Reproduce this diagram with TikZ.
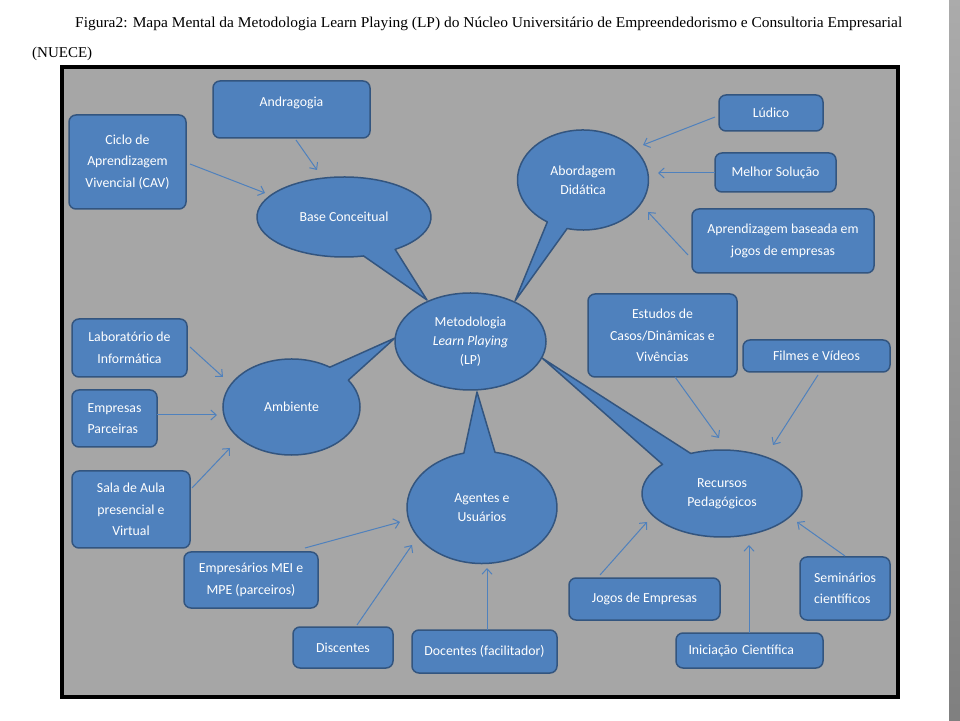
\documentclass[tikz,border=0pt]{standalone}
\usepackage{fontspec}
\usepackage{graphicx}
\setmainfont{Liberation Serif}
\newfontfamily\carlito{Carlito}
\usetikzlibrary{arrows.meta,shapes.geometric,calc}
\definecolor{bgray}{HTML}{A6A6A6}
\definecolor{bblue}{HTML}{4F81BD}
\definecolor{bline}{HTML}{33557F}
\definecolor{ablue}{HTML}{4F81BD}
\begin{document}
\begin{tikzpicture}[x=1pt,y=1pt,
  box/.style={draw=bline, fill=bblue, line width=1.5pt, rounded corners=7pt, text=white,
    font=\carlito\fontsize{13.8}{21.5}\selectfont, align=center, inner sep=0pt},
  ell/.style={ellipse, inner sep=0pt, text=white, font=\carlito\fontsize{13.8}{19}\selectfont, align=center},
  callshape/.style={draw=bline, fill=bblue, line width=1.5pt, line join=round},
  arr/.style={draw=ablue, line width=1pt, -{Straight Barb[length=5.5pt,width=10pt]}},
  ttl/.style={inner sep=0pt, anchor=base west, font=\fontsize{15}{18}\selectfont}]
\useasboundingbox (0,0) rectangle (960,720);
\fill[white] (0,0) rectangle (960,720);
\shade[top color=black!33, bottom color=black!50] (949,0) rectangle (960,720);

% title
\node[ttl] (title1) at (75,692) {\resizebox{827pt}{\height}{Figura2: Mapa Mental da Metodologia Learn Playing (LP) do Núcleo Universitário de Empreendedorismo e Consultoria Empresarial}};
\node[ttl] (title2) at (32,662) {(NUECE)};

% frame
\draw[line width=3.5pt, fill=bgray] (62,23) rectangle (898,653);

\coordinate (mc) at (470.5,378.5);

% callouts
\path[callshape] (344,503) ++(-54:87pt and 40pt) arc[start angle=-54, end angle=283, x radius=87pt, y radius=40pt] -- ([shift={(-43.5,41.5)}]mc) -- cycle;
\node[ell, minimum width=174pt, minimum height=80pt] (base) at (344,503) {Base Conceitual};

\path[callshape] (583,540) ++(-104:65.5pt and 50pt) arc[start angle=-104, end angle=237, x radius=65.5pt, y radius=50pt] -- ([shift={(44.5,40.5)}]mc) -- cycle;
\node[ell, minimum width=131pt, minimum height=100pt] (abord) at (583,540) {Abordagem\\Didática};

\path[callshape] (291.5,313) ++(56:68.5pt and 48pt) arc[start angle=56, end angle=394, x radius=68.5pt, y radius=48pt] -- ([shift={(-75.5,3.5)}]mc) -- cycle;
\node[ell, minimum width=137pt, minimum height=96pt] (amb) at (291.5,313) {Ambiente};

\path[callshape] (482,212.5) ++(104:75pt and 56pt) arc[start angle=104, end angle=440, x radius=75pt, y radius=56pt] -- ([shift={(6.5,-50.5)}]mc) -- cycle;
\node[ell, minimum width=150pt, minimum height=112pt] (agent) at (482,212.5) {Agentes e\\Usuários};

\path[callshape] (722,226.5) ++(138:80pt and 43.5pt) arc[start angle=138, end angle=473, x radius=80pt, y radius=43.5pt] -- ([shift={(71.5,-16.5)}]mc) -- cycle;
\node[ell, minimum width=160pt, minimum height=87pt] (recur) at (722,226.5) {Recursos\\Pedagógicos};

\node[ell, draw=bline, fill=bblue, line width=1.5pt, minimum width=151pt, minimum height=97pt] (metod) at (mc) {Metodologia\\\textit{Learn Playing}\\(LP)};

% boxes
\node[box, minimum width=157pt, minimum height=57pt, text depth=15pt] (andr) at (291.5,610.5) {Andragogia};
\node[box, minimum width=117pt, minimum height=94pt] (cav) at (127.5,558) {Ciclo de\\Aprendizagem\\Vivencial (CAV)};
\node[box, minimum width=104pt, minimum height=36pt] (ludico) at (771,607) {Lúdico};
\node[box, minimum width=121pt, minimum height=39pt] (melhor) at (775.5,547.5) {Melhor Solução};
\node[box, minimum width=182pt, minimum height=64pt] (aprend) at (783,479) {Aprendizagem baseada em\\jogos de empresas};
\node[box, minimum width=115pt, minimum height=58pt] (lab) at (129.5,372) {Laboratório de\\Informática};
\node[box, minimum width=85pt, minimum height=57pt, align=left] (emp) at (114.5,301.5) {Empresas\\Parceiras};
\node[box, minimum width=118pt, minimum height=77pt] (sala) at (131,210.5) {Sala de Aula\\presencial e\\Virtual};
\node[box, minimum width=134pt, minimum height=56pt] (empr) at (251,140) {Empresários MEI e\\MPE (parceiros)};
\node[box, minimum width=100pt, minimum height=41pt] (disc) at (343,72.5) {Discentes};
\node[box, minimum width=145pt, minimum height=43pt] (doc) at (484.5,68.5) {Docentes (facilitador)};
\node[box, minimum width=149pt, minimum height=83pt] (estud) at (662.5,384.5) {Estudos de\\Casos/Dinâmicas e\\Vivências};
\node[box, minimum width=147pt, minimum height=32pt] (filmes) at (816.5,364) {Filmes e Vídeos};
\node[box, minimum width=151pt, minimum height=42pt] (jogos) at (644.5,121) {Jogos de Empresas};
\node[box, minimum width=147pt, minimum height=35pt, text width=122pt, align=left] (inic) at (749.5,69.5) {Iniciação Científica};
\node[box, minimum width=90pt, minimum height=63pt, align=left] (semin) at (845,131.5) {Seminários\\científicos};

% arrows
\draw[arr] ([shift={(4.5,-30.5)}]andr.center) -- ([shift={(-27,47)}]base.center);
\draw[arr] ([shift={(62.5,-2)}]cav.center) -- ([shift={(-79,24)}]base.center);
\draw[arr] ([shift={(-56,-4)}]ludico.center) -- ([shift={(60,35)}]abord.center);
\draw[arr] ([shift={(-60.5,-0.5)}]melhor.center) -- ([shift={(75,7)}]abord.center);
\draw[arr] ([shift={(-95,-14)}]aprend.center) -- ([shift={(65,-32)}]abord.center);
\draw[arr] ([shift={(60.5,1)}]lab.center) -- ([shift={(-68.5,30)}]amb.center);
\draw[arr] ([shift={(42.5,3.5)}]emp.center) -- ([shift={(-74.5,-8)}]amb.center);
\draw[arr] ([shift={(61,21.5)}]sala.center) -- ([shift={(-61.5,-41)}]amb.center);
\draw[arr] ([shift={(54,32)}]empr.center) -- ([shift={(-82,-14.5)}]agent.center);
\draw[arr] ([shift={(14,22.5)}]disc.center) -- ([shift={(-70,-37.5)}]agent.center);
\draw[arr] ([shift={(2.5,21.5)}]doc.center) -- ([shift={(5,-60.5)}]agent.center);
\draw[arr] ([shift={(12.5,-41.5)}]estud.center) -- ([shift={(-3,55.5)}]recur.center);
\draw[arr] ([shift={(1.5,-19)}]filmes.center) -- ([shift={(51,48.5)}]recur.center);
\draw[arr] ([shift={(-44.5,24)}]jogos.center) -- ([shift={(-75,-28.5)}]recur.center);
\draw[arr] ([shift={(-0.5,17.5)}]inic.center) -- ([shift={(27,-51.5)}]recur.center);
\draw[arr] ([shift={(0,32.5)}]semin.center) -- ([shift={(75,-28.5)}]recur.center);
\end{tikzpicture}
\end{document}
